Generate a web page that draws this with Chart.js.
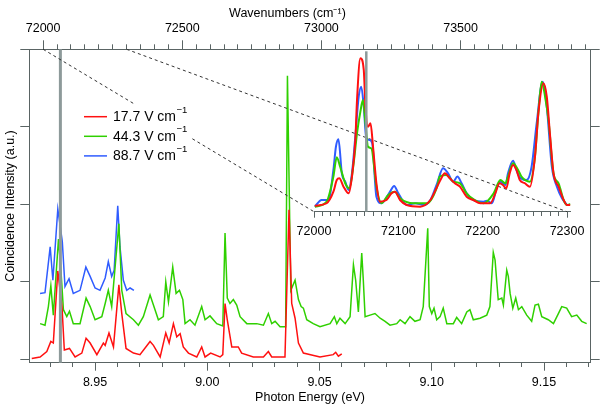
<!DOCTYPE html>
<html><head><meta charset="utf-8">
<script src="https://cdn.jsdelivr.net/npm/chart.js@4/dist/chart.umd.min.js"></script>
<style>
html,body{margin:0;padding:0;background:#fff;}
#wrap{position:relative;width:602px;height:407px;overflow:hidden;}
#wrap canvas{position:absolute;left:0;top:0;}
</style></head>
<body><div id="wrap"><canvas id="main" width="602" height="407"></canvas><canvas id="inset" width="602" height="407"></canvas></div>
<script>
// ---------- data ----------
const fieldLabels = ['17.7', '44.3', '88.7'];           // V cm^-1
const markerWavenumber = 72062;                           // grey marker line (cm^-1)
const zoomRange = [72000, 72300];                         // region expanded in inset (cm^-1)

// main panel: photon energy (eV) vs coincidence intensity (a.u., offset traces)
const redEV = [8.9218,8.9255,8.9285,8.9303,8.9314,8.9334,8.9344,8.9353,8.9363,8.9386,8.9411,8.9441,8.9460,8.9478,8.9508,8.9537,8.9545,8.9562,8.9582,8.9606,8.9619,8.9638,8.9671,8.9700,8.9745,8.9760,8.9790,8.9815,8.9830,8.9849,8.9864,8.9879,8.9893,8.9916,8.9953,8.9975,8.9990,9.0015,9.0057,9.0069,9.0079,9.0089,9.0109,9.0138,9.0153,9.0205,9.0250,9.0272,9.0287,9.0346,9.0364,9.0376,9.0391,9.0406,9.0428,9.0502,9.0561,9.0572,9.0584,9.0599];
const redI = [0.01,0.03,0.10,0.23,0.21,1.14,0.89,0.66,0.12,0.14,0.03,0.08,0.27,0.21,0.06,0.21,0.18,0.34,0.16,0.96,0.59,0.14,0.08,0.06,0.23,0.18,0.03,0.34,0.21,0.46,0.29,0.33,0.16,0.08,0.03,0.16,0.03,0.08,0.03,0.06,0.72,0.51,0.16,0.16,0.08,0.03,0.03,0.10,0.03,0.03,1.93,0.72,0.53,0.21,0.08,0.03,0.06,0.09,0.04,0.07];

const greenEV = [8.9255,8.9277,8.9292,8.9303,8.9314,8.9337,8.9347,8.9359,8.9374,8.9386,8.9403,8.9433,8.9460,8.9478,8.9500,8.9530,8.9545,8.9559,8.9574,8.9606,8.9619,8.9638,8.9671,8.9693,8.9715,8.9745,8.9760,8.9782,8.9804,8.9815,8.9827,8.9846,8.9861,8.9876,8.9891,8.9901,8.9923,8.9945,8.9975,8.9990,9.0012,9.0042,9.0069,9.0079,9.0089,9.0101,9.0116,9.0131,9.0146,9.0176,9.0220,9.0250,9.0272,9.0287,9.0302,9.0324,9.0349,9.0357,9.0372,9.0391,9.0406,9.0418,9.0428,9.0443,9.0472,9.0502,9.0547,9.0566,9.0577,9.0591,9.0614,9.0636,9.0651,9.0661,9.0673,9.0688,9.0695,9.0703,9.0725,9.0747,9.0770,9.0792,9.0814,9.0844,9.0859,9.0881,9.0903,9.0925,9.0948,9.0962,9.0982,9.0989,9.1000,9.1010,9.1022,9.1037,9.1051,9.1067,9.1096,9.1111,9.1133,9.1156,9.1170,9.1185,9.1215,9.1245,9.1259,9.1274,9.1282,9.1289,9.1296,9.1312,9.1319,9.1334,9.1341,9.1349,9.1361,9.1374,9.1386,9.1401,9.1423,9.1445,9.1460,9.1475,9.1490,9.1519,9.1542,9.1564,9.1579,9.1601,9.1623,9.1646,9.1668,9.1690];
const greenI = [0.46,0.44,0.68,0.95,0.57,1.55,1.19,0.64,0.55,0.62,0.46,0.46,0.79,0.68,0.51,0.55,0.72,0.89,0.68,1.75,0.89,0.59,0.51,0.44,0.55,0.83,0.70,0.51,0.55,1.00,0.74,1.19,0.85,0.89,0.77,0.46,0.51,0.44,0.68,0.51,0.56,0.46,0.43,1.63,0.79,0.72,0.77,0.70,0.55,0.46,0.46,0.44,0.59,0.46,0.49,0.42,0.42,3.66,0.89,1.02,0.77,0.68,0.66,0.51,0.46,0.42,0.46,0.55,0.46,0.53,0.46,0.55,1.22,1.02,0.61,1.37,1.02,0.55,0.57,0.59,0.53,0.49,0.44,0.46,0.51,0.46,0.55,0.49,0.51,0.68,1.69,0.68,0.59,0.66,0.51,0.55,0.66,0.46,0.46,0.54,0.46,0.61,0.64,0.51,0.53,0.57,0.68,1.38,1.28,1.02,0.77,0.79,0.70,1.15,1.07,0.85,0.66,0.79,0.64,0.68,0.57,0.49,0.70,0.71,0.55,0.51,0.46,0.59,0.68,0.66,0.55,0.57,0.49,0.46];

const blueEV = [8.9255,8.9277,8.9300,8.9312,8.9334,8.9354,8.9366,8.9384,8.9403,8.9433,8.9459,8.9478,8.9500,8.9522,8.9545,8.9559,8.9574,8.9585,8.9601,8.9611,8.9626,8.9641,8.9656,8.9673];
const blueI = [0.85,0.86,1.45,1.02,1.94,1.52,0.94,1.04,0.85,0.89,1.19,1.07,0.92,0.89,1.05,1.26,1.07,1.15,1.98,1.45,1.02,0.89,0.92,0.89];

// inset: wavenumber (cm^-1) vs normalised intensity
const redCm = [72001,72015,72023,72027,72030,72035,72041,72045,72049,72051,72055,72059,72061,72064,72067,72070,72074,72078,72086,72092,72096,72102,72110,72126,72138,72146,72151,72155,72161,72167,72173,72181,72189,72197,72209,72215,72220,72224,72228,72232,72236,72240,72244,72250,72256,72262,72266,72272,72276,72280,72284,72290,72296,72300,72304];
const redInset = [0.037,0.052,0.123,0.195,0.206,0.154,0.113,0.216,0.441,0.688,0.945,0.873,0.647,0.523,0.544,0.400,0.175,0.062,0.072,0.113,0.123,0.072,0.041,0.031,0.072,0.154,0.206,0.236,0.206,0.175,0.154,0.092,0.072,0.052,0.052,0.113,0.175,0.164,0.144,0.236,0.288,0.257,0.195,0.175,0.154,0.339,0.606,0.791,0.708,0.462,0.236,0.154,0.072,0.041,0.041];
const greenCm = [72001,72015,72023,72027,72031,72037,72042,72047,72051,72055,72058,72061,72064,72068,72074,72080,72088,72096,72102,72118,72134,72146,72149,72157,72165,72173,72181,72185,72201,72213,72221,72227,72230,72236,72242,72246,72256,72262,72266,72270,72274,72278,72284,72290,72296,72300,72304];
const greenInset = [0.031,0.062,0.216,0.335,0.277,0.175,0.144,0.298,0.483,0.616,0.688,0.544,0.400,0.390,0.154,0.052,0.103,0.123,0.083,0.052,0.052,0.154,0.216,0.226,0.185,0.175,0.113,0.092,0.052,0.113,0.195,0.175,0.216,0.298,0.257,0.216,0.185,0.339,0.606,0.800,0.708,0.565,0.236,0.175,0.072,0.041,0.047];
const blueCm = [72001,72009,72017,72023,72026,72029,72033,72037,72041,72045,72049,72053,72056,72059,72062,72066,72069,72074,72080,72090,72095,72100,72110,72120,72130,72138,72146,72153,72159,72165,72170,72175,72181,72189,72201,72205,72211,72217,72221,72227,72230,72236,72240,72244,72252,72258,72264,72271,72276,72282,72288,72294,72300];
const blueInset = [0.031,0.072,0.072,0.257,0.400,0.446,0.236,0.185,0.134,0.236,0.462,0.708,0.770,0.647,0.452,0.441,0.421,0.092,0.052,0.123,0.158,0.113,0.041,0.052,0.041,0.072,0.175,0.267,0.236,0.185,0.216,0.175,0.113,0.072,0.062,0.068,0.052,0.154,0.185,0.164,0.236,0.314,0.257,0.212,0.195,0.277,0.544,0.800,0.647,0.277,0.154,0.083,0.041];

// axis tick definitions
const evTicks = []; for (let i = 893; i <= 917; i++) evTicks.push(i / 100);
const cmTicks = []; for (let w = 72000; w <= 73950; w += 50) cmTicks.push(w);
const insetTicks = []; for (let w = 72000; w <= 72300; w += 10) insetTicks.push(w);
const yTicks = [0, 1, 2, 3, 4];

// ---------- style ----------
const CM_PER_EV = 8065.544;
const EV_MIN = 8.9207, EV_MAX = 9.1708;
const RED = '#ff1010', GREEN = '#2fd000', BLUE = '#2f5cff';
const AXIS = '#5a6464', GREY = '#8d9a9a';
const FONT = "'Liberation Sans', Arial, Helvetica, sans-serif";
Chart.defaults.font.family = FONT;
Chart.defaults.font.size = 12.5;
Chart.defaults.color = '#000';

const pairs = (xs, ys) => xs.map((x, i) => ({x, y: ys[i]}));
const setTicks = list => s => { s.ticks = list.map(v => ({value: v})); };
const isMajorEV = v => Math.round(v * 100) % 5 === 0;
const lineDs = (label, data, color, w, smooth) => ({
  label, data, borderColor: color, backgroundColor: color, borderWidth: w,
  pointRadius: 0, fill: false, tension: 0,
  cubicInterpolationMode: smooth ? 'monotone' : 'default'
});

// ---------- main chart ----------
const mainPlugin = {
  id: 'mainMarker',
  afterDatasetsDraw(chart) {
    const {ctx, chartArea, scales} = chart;
    const x = scales.x.getPixelForValue(markerWavenumber / CM_PER_EV);
    ctx.save();
    ctx.strokeStyle = GREY; ctx.lineWidth = 3;
    ctx.beginPath(); ctx.moveTo(x, chartArea.top); ctx.lineTo(x, chartArea.bottom); ctx.stroke();
    ctx.restore();
  }
};

const mainChart = new Chart(document.getElementById('main'), {
  type: 'line',
  data: { datasets: [
    lineDs(fieldLabels[0] + ' V cm⁻¹', pairs(redEV, redI), RED, 1.5, false),
    lineDs(fieldLabels[1] + ' V cm⁻¹', pairs(greenEV, greenI), GREEN, 1.5, false),
    lineDs(fieldLabels[2] + ' V cm⁻¹', pairs(blueEV, blueI), BLUE, 1.5, false)
  ]},
  options: {
    responsive: false, animation: false, devicePixelRatio: 1,
    layout: { padding: 0 },
    plugins: { legend: { display: false }, tooltip: { enabled: false } },
    scales: {
      x: {
        type: 'linear', position: 'bottom', min: EV_MIN, max: EV_MAX,
        afterBuildTicks: setTicks(evTicks),
        afterFit: s => { s.height = 44.3; },
        ticks: { autoSkip: false, maxRotation: 0, minRotation: 0, padding: 4.5,
                 callback: v => isMajorEV(v) ? v.toFixed(2) : '' },
        grid: { drawOnChartArea: false, drawTicks: true, tickLength: 8, tickColor: AXIS, tickWidth: 1,
                tickBorderDash: c => (c.tick && !isMajorEV(c.tick.value)) ? [4, 100] : [] },
        border: { display: true, color: AXIS, width: 1 },
        title: { display: true, text: 'Photon Energy (eV)', padding: { top: 0, bottom: 1.5 } }
      },
      xTop: {
        type: 'linear', position: 'top', min: EV_MIN * CM_PER_EV, max: EV_MAX * CM_PER_EV,
        afterBuildTicks: setTicks(cmTicks),
        afterFit: s => { s.height = 49.3; },
        ticks: { autoSkip: false, maxRotation: 0, minRotation: 0, padding: 3.8,
                 callback: v => (v % 500 === 0) ? String(v) : '' },
        grid: { drawOnChartArea: false, drawTicks: true, tickLength: 9, tickColor: AXIS, tickWidth: 1,
                tickBorderDash: c => (c.tick && c.tick.value % 500 !== 0) ? [0, 4, 20, 0] : [] },
        border: { display: true, color: AXIS, width: 1 },
        title: { display: true, text: 'Wavenumbers (cm⁻¹)' + '\u00a0'.repeat(13), padding: { top: 6.5, bottom: 0 } }
      },
      y: {
        type: 'linear', position: 'left', min: -0.044, max: 4,
        afterBuildTicks: setTicks(yTicks),
        afterFit: s => { s.width = 29.3; },
        ticks: { display: false },
        grid: { drawOnChartArea: false, drawTicks: true, tickLength: 9, tickColor: AXIS, tickWidth: 1 },
        border: { display: true, color: AXIS, width: 1 },
        title: { display: true, text: 'Coincidence Intensity (a.u.)', padding: { top: 3.5, bottom: 0 } }
      },
      yR: {
        type: 'linear', position: 'right', min: -0.044, max: 4,
        afterBuildTicks: setTicks(yTicks),
        afterFit: s => { s.width = 11.3; },
        ticks: { display: false },
        grid: { drawOnChartArea: false, drawTicks: true, tickLength: 9, tickColor: AXIS, tickWidth: 1 },
        border: { display: true, color: AXIS, width: 1 }
      }
    }
  },
  plugins: [mainPlugin]
});

// ---------- inset chart ----------
const insetPlugin = {
  id: 'insetExtras',
  beforeDatasetsDraw(chart) {
    const ctx = chart.ctx;
    const topScale = mainChart.scales.xTop;
    ctx.save();
    ctx.strokeStyle = '#333'; ctx.lineWidth = 1; ctx.setLineDash([3, 3]);
    zoomRange.forEach(w => {
      ctx.beginPath();
      ctx.moveTo(topScale.getPixelForValue(w), mainChart.chartArea.top);
      ctx.lineTo(chart.scales.x.getPixelForValue(w), chart.chartArea.bottom);
      ctx.stroke();
    });
    ctx.restore();
  },
  afterDatasetsDraw(chart) {
    const {ctx, chartArea, scales} = chart;
    const x = scales.x.getPixelForValue(markerWavenumber);
    ctx.save();
    ctx.strokeStyle = GREY; ctx.lineWidth = 2.5;
    ctx.beginPath(); ctx.moveTo(x, chartArea.top + 2); ctx.lineTo(x, chartArea.bottom); ctx.stroke();
    ctx.restore();
  },
  afterDraw(chart) {
    const ctx = chart.ctx;
    ctx.save();
    ctx.fillStyle = '#fff';
    ctx.fillRect(75, 104, 116, 62);
    chart.data.datasets.forEach((ds, i) => {
      const y = 116.7 + i * 19.6;
      ctx.strokeStyle = ds.borderColor; ctx.lineWidth = 1.5;
      ctx.beginPath(); ctx.moveTo(84, y); ctx.lineTo(107, y); ctx.stroke();
      ctx.fillStyle = '#000';
      ctx.font = '14px ' + FONT; ctx.textBaseline = 'middle'; ctx.textAlign = 'left';
      const base = fieldLabels[i] + ' V cm';
      ctx.fillText(base, 113, y + 0.5);
      const w = ctx.measureText(base).width;
      ctx.font = '9.5px ' + FONT;
      ctx.fillText('−1', 113 + w + 0.5, y - 6.5);
    });
    ctx.restore();
  }
};

const insetChart = new Chart(document.getElementById('inset'), {
  type: 'line',
  data: { datasets: [
    lineDs(fieldLabels[0] + ' V cm⁻¹', pairs(redCm, redInset), RED, 2, true),
    lineDs(fieldLabels[1] + ' V cm⁻¹', pairs(greenCm, greenInset), GREEN, 2, true),
    lineDs(fieldLabels[2] + ' V cm⁻¹', pairs(blueCm, blueInset), BLUE, 2, true)
  ]},
  options: {
    responsive: false, animation: false, devicePixelRatio: 1,
    layout: { padding: { left: 314, right: 31.6, top: 49.3, bottom: 165.3 } },
    plugins: { legend: { display: false }, tooltip: { enabled: false } },
    scales: {
      x: {
        type: 'linear', position: 'bottom', min: 72000, max: 72304,
        afterBuildTicks: setTicks(insetTicks),
        afterFit: s => { s.height = 30; },
        ticks: { autoSkip: false, maxRotation: 0, minRotation: 0, padding: 6.5,
                 callback: v => (v % 100 === 0) ? String(v) : '' },
        grid: { drawOnChartArea: false, drawTicks: true, tickLength: 6, tickColor: AXIS, tickWidth: 1,
                tickBorderDash: c => (c.tick && c.tick.value % 100 !== 0) ? [4, 100] : [] },
        border: { display: true, color: AXIS, width: 1 }
      },
      y: { type: 'linear', display: false, min: 0, max: 1 }
    }
  },
  plugins: [insetPlugin]
});
</script>
</body></html>
